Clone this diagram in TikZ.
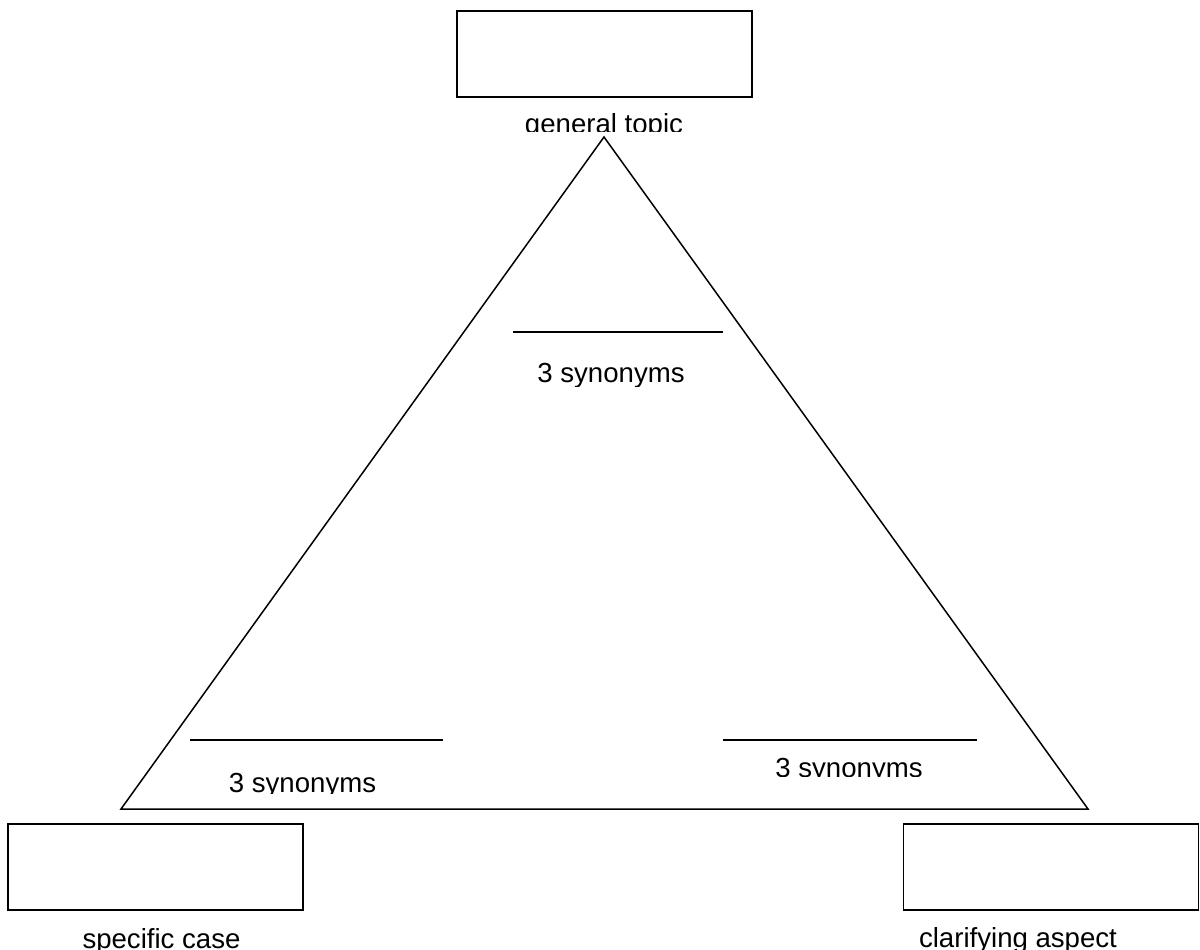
\documentclass[tikz,border=0pt]{standalone}
\usepackage{fontspec}
\setmainfont{Liberation Sans}
\begin{document}
\begin{tikzpicture}[x=1pt,y=-1pt,
  box/.style={draw=black, line width=1.6pt, minimum width=295pt, minimum height=86pt, inner sep=0pt, outer sep=0pt},
  lbl/.style={inner sep=0pt, outer sep=0pt, anchor=base, font=\fontsize{27.6pt}{30pt}\selectfont},
  edge/.style={draw=black, line width=1.5pt}]
\useasboundingbox (0,0) rectangle (1200,950);
\fill[white] (0,0) rectangle (1200,950);
% boxes
\node[box] (topbox) at (604.5,54) {};
\node[box] (leftbox) at (155.5,867) {};
\node[box] (rightbox) at (1051,867) {};
% triangle
\coordinate (apex) at (604,137);
\coordinate (bl) at (121,809);
\coordinate (br) at (1088,809);
\draw[edge, line join=miter] (apex) -- (bl) -- (br) -- cycle;
% blank lines
\coordinate (t1) at (513,332); \coordinate (t2) at (723,332);
\coordinate (l1) at (190,740); \coordinate (l2) at (443,740);
\coordinate (r1) at (723,740); \coordinate (r2) at (977,740);
\draw[edge] (t1) -- (t2);
\draw[edge] (l1) -- (l2);
\draw[edge] (r1) -- (r2);
% labels (clipped at bottom like the reference)
\begin{scope}
\clip (400,100) rectangle (800,131);
\node[lbl] (gt) at (604,133) {general topic};
\end{scope}
\begin{scope}
\clip (480,340) rectangle (740,386);
\node[lbl] (syntop) at (611,382) {3 synonyms};
\end{scope}
\begin{scope}
\clip (200,750) rectangle (420,793);
\node[lbl] (synleft) at (302.5,792) {3 synonyms};
\end{scope}
\begin{scope}
\clip (740,745) rectangle (960,776);
\node[lbl] (synright) at (849,777) {3 synonyms};
\end{scope}
\node[lbl] (spec) at (161.5,948) {specific case};
\node[lbl] (clar) at (1018,947) {clarifying aspect};
\end{tikzpicture}
\end{document}
